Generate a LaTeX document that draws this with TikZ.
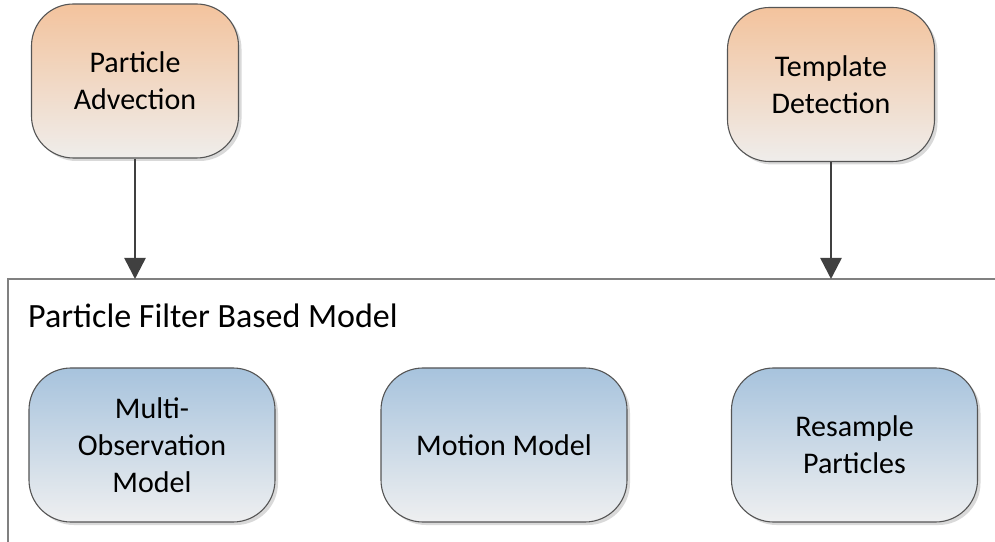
\documentclass[tikz,border=0pt]{standalone}
\usepackage{fontspec}
\setmainfont{Carlito}
\usetikzlibrary{arrows.meta,shadows}
\definecolor{orangetop}{HTML}{F3C39D}
\definecolor{orangebot}{HTML}{EFEDEB}
\definecolor{bluetop}{HTML}{A7C3DD}
\definecolor{bluebot}{HTML}{EEEFF0}
\definecolor{boxline}{HTML}{555555}
\definecolor{arrowgray}{HTML}{404040}
\definecolor{frameline}{HTML}{808080}
\tikzset{
  procbox/.style={draw=boxline, line width=1.1bp, rounded corners=42bp,
    minimum height=154bp, align=center, text=black,
    font=\fontsize{30bp}{37bp}\selectfont,
    drop shadow={shadow xshift=3bp, shadow yshift=-3bp, fill=black, opacity=0.15}},
  inputbox/.style={procbox, minimum width=207bp, top color=orangetop, bottom color=orangebot},
  modelbox/.style={procbox, minimum width=246bp, top color=bluetop, bottom color=bluebot},
  flow/.style={draw=arrowgray, line width=2.5bp,
    -{Triangle[width=21bp,length=21bp]}, arrowgray},
  frame/.style={draw=frameline, line width=1.3bp}
}
\begin{document}
\begin{tikzpicture}[x=1bp,y=-1bp]
\useasboundingbox (0,0) rectangle (995,542);
% inputs feeding the model
\node[inputbox] (adv) at (135,81) {Particle\\Advection};
\node[inputbox] (tpl) at (831,84.5) {Template\\Detection};
% open frame of the particle filter model
\coordinate (frameR) at (995,279);
\coordinate (frameTL) at (8,279);
\coordinate (frameB) at (8,542);
\draw[frame] (frameR) -- (frameTL) -- (frameB);
\coordinate (advIn) at (135,279);
\coordinate (tplIn) at (831,279);
\draw[flow] (adv.south) -- (advIn);
\draw[flow] (tpl.south) -- (tplIn);
\node[anchor=base west, font=\fontsize{34bp}{40bp}\selectfont, inner sep=0pt] (title) at (28,328) {Particle Filter Based Model};
% model components
\node[modelbox] (obs) at (152,445) {Multi-\\Observation\\Model};
\node[modelbox] (mot) at (504,445) {Motion Model};
\node[modelbox] (res) at (854.5,445) {Resample\\Particles};
\end{tikzpicture}
\end{document}
